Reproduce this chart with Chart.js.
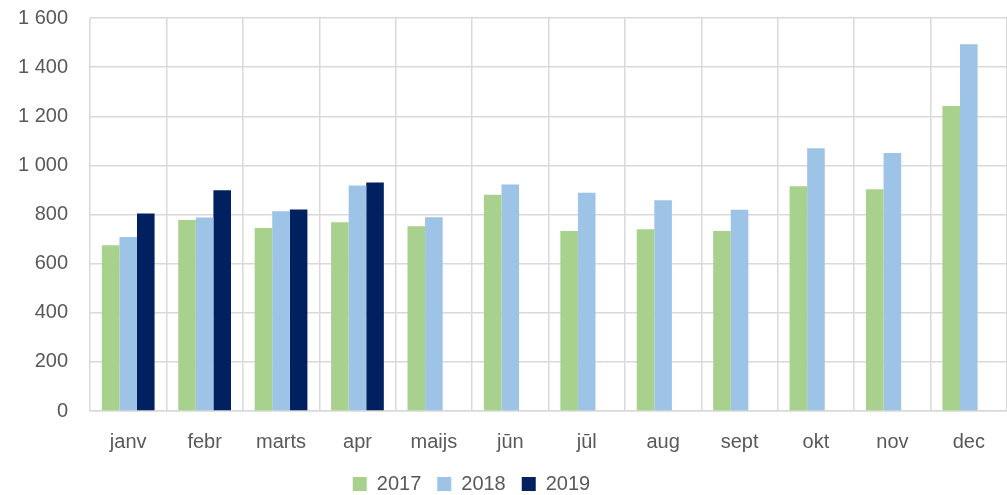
<!DOCTYPE html>
<html>
<head>
<meta charset="utf-8">
<script src="https://cdn.jsdelivr.net/npm/chart.js@4/dist/chart.umd.min.js"></script>
<style>
  html, body { margin: 0; padding: 0; background: #fff; overflow: hidden; }
  #wrap { width: 1007px; height: 520px; margin-top: -16px; }
</style>
</head>
<body>
<div id="wrap"><canvas id="chart"></canvas></div>
<script>
  // Months and yearly values
  const months = ['janv', 'febr', 'marts', 'apr', 'maijs', 'jūn', 'jūl', 'aug', 'sept', 'okt', 'nov', 'dec'];
  const years = ['2017', '2018', '2019'];
  const values2017 = [675, 778, 745, 768, 752, 880, 733, 740, 733, 915, 903, 1242];
  const values2018 = [708, 788, 813, 918, 789, 922, 889, 858, 819, 1070, 1050, 1493];
  const values2019 = [804, 899, 820, 930, null, null, null, null, null, null, null, null];
  const yTicks = [0, 200, 400, 600, 800, 1000, 1200, 1400, 1600];

  const textColor = '#595959';
  const gridColor = '#d9d9d9';
  const font = { family: 'Liberation Sans', size: 20 };

  function fmt(v) {
    return String(v).replace(/\B(?=(\d{3})+(?!\d))/g, ' ');
  }

  // legend sits a bit left of centre in the original
  const shiftLegend = {
    id: 'shiftLegend',
    afterLayout(chart) {
      chart.legend.left -= 32;
      chart.legend.right -= 32;
    }
  };

  new Chart(document.getElementById('chart'), {
    type: 'bar',
    data: {
      labels: months,
      datasets: [
        { label: years[0], data: values2017, backgroundColor: '#a9d18e' },
        { label: years[1], data: values2018, backgroundColor: '#9dc3e6' },
        { label: years[2], data: values2019, backgroundColor: '#002060' }
      ]
    },
    options: {
      responsive: true,
      maintainAspectRatio: false,
      animation: false,
      datasets: { bar: { categoryPercentage: 0.69, barPercentage: 1.0 } },
      layout: { padding: { top: 4, right: 0, bottom: 0, left: 0 } },
      plugins: {
        legend: {
          position: 'bottom',
          labels: { color: textColor, font: font, boxWidth: 14, boxHeight: 14, padding: 16 }
        },
        tooltip: { enabled: false }
      },
      scales: {
        x: {
          grid: { color: gridColor, lineWidth: 1.5, drawTicks: false, offset: true },
          border: { color: gridColor, width: 1.5 },
          ticks: { color: textColor, font: font, padding: 19, maxRotation: 0 },
          afterFit: (s) => { s.height = 47; }
        },
        y: {
          min: 0,
          max: 1600,
          afterBuildTicks: (s) => { s.ticks = yTicks.map(v => ({ value: v })); },
          grid: { color: gridColor, lineWidth: 1.5, drawTicks: false },
          border: { display: false },
          ticks: { color: textColor, font: font, padding: 22, callback: (v) => fmt(v) },
          afterFit: (s) => { s.width = 90; }
        }
      }
    },
    plugins: [shiftLegend]
  });
</script>
</body>
</html>
